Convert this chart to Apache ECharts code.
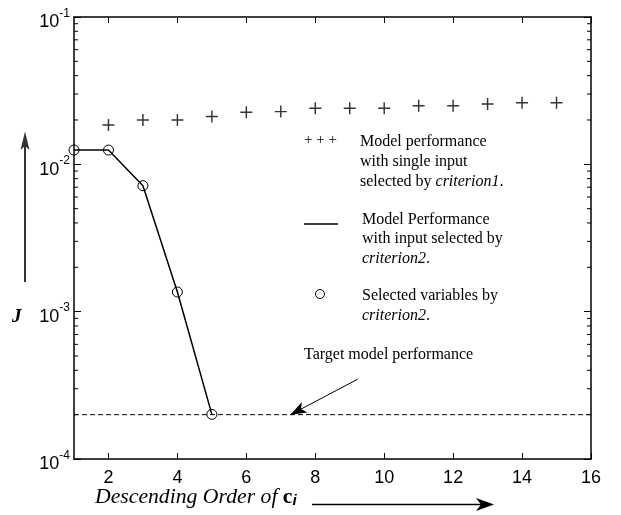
<!DOCTYPE html>
<html>
<head>
<meta charset="utf-8">
<script src="https://cdn.jsdelivr.net/npm/echarts@6/dist/echarts.min.js"></script>
<style>html,body{margin:0;padding:0;background:#fff}#c{width:621px;height:515px}</style>
</head>
<body>
<div id="c"></div>
<script>
// ---- data ----
var xTickValues = [2, 4, 6, 8, 10, 12, 14, 16];
var yTickValues = [0.0001, 0.001, 0.01, 0.1];
var crit1X = [2, 3, 4, 5, 6, 7, 8, 9, 10, 11, 12, 13, 14, 15];
var crit1J = [0.0185, 0.0200, 0.0200, 0.0211, 0.0226, 0.0228, 0.0240, 0.0240, 0.0240, 0.0250, 0.0250, 0.0257, 0.0262, 0.0262];
var crit2X = [1, 2, 3, 4, 5];
var crit2J = [0.0125, 0.0125, 0.00716, 0.00136, 0.000201];
var targetJ = 0.0002;
var arrowFrom = [9.23, 0.000348];
var arrowTo = [7.28, 0.0002];
var minorMantissas = [2, 3, 4, 5, 6, 7, 8, 9];
var minorDecades = [0.0001, 0.001, 0.01];

var minorTickValues = [];
minorDecades.forEach(function (d) { minorMantissas.forEach(function (m) { minorTickValues.push(m * d); }); });

var chart = echarts.init(document.getElementById('c'), null, { renderer: 'canvas' });
var serif = '"Liberation Serif", "Times New Roman", serif';
var sans = '"Liberation Sans", Arial, sans-serif';

var axisLine = { show: true, onZero: false, lineStyle: { color: '#000', width: 1.5 } };
var italicRich = { i: { fontStyle: 'italic', fontSize: 16, fontFamily: serif, fill: '#000' } };

var option = {
  backgroundColor: '#fff',
  animation: false,
  grid: { left: 74, right: 30, top: 17, bottom: 56, containLabel: false },
  xAxis: [{
    type: 'value', min: 1, max: 16, position: 'bottom',
    axisLine: axisLine,
    axisTick: { show: true, inside: true, length: 6, customValues: xTickValues, lineStyle: { color: '#000', width: 1 } },
    axisLabel: { show: true, customValues: xTickValues, margin: 10, color: '#000', fontSize: 18, fontFamily: sans },
    splitLine: { show: false }
  }, {
    type: 'value', min: 1, max: 16, position: 'top',
    axisLine: axisLine,
    axisTick: { show: true, inside: true, length: 6, customValues: xTickValues, lineStyle: { color: '#000', width: 1 } },
    axisLabel: { show: false },
    splitLine: { show: false }
  }],
  yAxis: [{
    type: 'log', logBase: 10, min: 0.0001, max: 0.1, position: 'left',
    axisLine: axisLine,
    axisTick: { show: true, inside: true, length: 7, lineStyle: { color: '#000', width: 1 } },
    axisLabel: {
      show: true, margin: 4, color: '#000', padding: [5, 0, 0, 0],
      formatter: function (v) {
        var e = Math.round(Math.log10(v));
        return '{b|10}{s|' + e + '}';
      },
      rich: {
        b: { fontSize: 18, fontFamily: sans, color: '#000', lineHeight: 24, verticalAlign: 'bottom' },
        s: { fontSize: 12, fontFamily: sans, color: '#000', lineHeight: 16, verticalAlign: 'top' }
      }
    },
    splitLine: { show: false }
  }, {
    type: 'log', logBase: 10, min: 0.0001, max: 0.1, position: 'right',
    axisLine: axisLine,
    axisTick: { show: true, inside: true, length: 7, lineStyle: { color: '#000', width: 1 } },
    axisLabel: { show: false },
    splitLine: { show: false }
  }],
  series: [{
    name: 'minorTicks',
    type: 'custom',
    silent: true,
    data: minorTickValues.map(function (v) { return [1, v]; }),
    encode: { x: 0, y: 1 },
    renderItem: function (params, api) {
      var v = api.value(1);
      var pl = api.coord([1, v]);
      var pr = api.coord([16, v]);
      return {
        type: 'group',
        children: [
          { type: 'line', shape: { x1: pl[0], y1: pl[1], x2: pl[0] + 4, y2: pl[1] }, style: { stroke: '#000', lineWidth: 1 } },
          { type: 'line', shape: { x1: pr[0], y1: pr[1], x2: pr[0] - 4, y2: pr[1] }, style: { stroke: '#000', lineWidth: 1 } }
        ]
      };
    },
    z: 1
  }, {
    name: 'target',
    type: 'line',
    data: [[1, targetJ], [16, targetJ]],
    symbol: 'none',
    lineStyle: { color: '#000', width: 1, type: [5, 3] },
    markLine: {
      silent: true,
      symbol: ['none', 'arrow'],
      symbolSize: [9, 16],
      label: { show: false },
      lineStyle: { color: '#000', width: 1, type: 'solid' },
      data: [[{ coord: arrowFrom }, { coord: arrowTo }]]
    },
    z: 2
  }, {
    name: 'criterion1',
    type: 'scatter',
    data: crit1X.map(function (x, i) { return [x, crit1J[i]]; }),
    symbol: 'path://M0,44H100V56H0Z M44,0H56V100H44Z',
    symbolSize: 12,
    itemStyle: { color: '#000' },
    z: 3
  }, {
    name: 'criterion2',
    type: 'line',
    data: crit2X.map(function (x, i) { return [x, crit2J[i]]; }),
    symbol: 'circle',
    symbolSize: 10,
    showAllSymbol: true,
    lineStyle: { color: '#000', width: 1.5 },
    itemStyle: { color: 'rgba(0,0,0,0)', borderColor: '#000', borderWidth: 1 },
    z: 4
  }],
  graphic: [
    // legend block 1
    { type: 'text', left: 304, top: 133, style: { text: '+ + +', font: '15px ' + serif, fill: '#000' } },
    { type: 'text', left: 360, top: 132, style: {
      text: 'Model performance\nwith single input\nselected by {i|criterion1}.',
      font: '16px ' + serif, fill: '#000', lineHeight: 20, rich: italicRich } },
    // legend block 2
    { type: 'line', shape: { x1: 304, y1: 224, x2: 338, y2: 224 }, style: { stroke: '#000', lineWidth: 1.5 } },
    { type: 'text', left: 362, top: 210, style: {
      text: 'Model Performance\nwith input selected by\n{i|criterion2}.',
      font: '16px ' + serif, fill: '#000', lineHeight: 19.5, rich: italicRich } },
    // legend block 3
    { type: 'circle', shape: { cx: 320, cy: 294, r: 4.5 }, style: { fill: 'none', stroke: '#000', lineWidth: 1 } },
    { type: 'text', left: 362, top: 286, style: {
      text: 'Selected variables by\n{i|criterion2}.',
      font: '16px ' + serif, fill: '#000', lineHeight: 20, rich: italicRich } },
    // target label
    { type: 'text', left: 304, top: 347, style: { text: 'Target model performance', font: '16px ' + serif, fill: '#000' } },
    // y axis label J with arrow
    { type: 'text', left: 12, top: 308, style: { text: 'J', font: 'italic bold 19px ' + serif, fill: '#000' } },
    { type: 'line', shape: { x1: 25, y1: 282, x2: 25, y2: 145 }, style: { stroke: '#333', lineWidth: 2 } },
    { type: 'polygon', shape: { points: [[25, 131.5], [29.5, 150], [25, 146], [20.5, 150]] }, style: { fill: '#333' } },
    // x axis title with arrow
    { type: 'text', x: 95, y: 488, scaleX: 1.085, style: {
      text: 'Descending Order of {c|c}{s|i}',
      font: 'italic 20px ' + serif, fill: '#000',
      rich: {
        c: { fontWeight: 'bold', fontStyle: 'normal', fontSize: 20, fontFamily: serif, fill: '#000', verticalAlign: 'middle' },
        s: { fontWeight: 'bold', fontStyle: 'italic', fontSize: 14, fontFamily: sans, fill: '#000', verticalAlign: 'bottom', padding: [6, 0, 0, 0] }
      } } },
    { type: 'line', shape: { x1: 312, y1: 504.5, x2: 482, y2: 504.5 }, style: { stroke: '#000', lineWidth: 1.5 } },
    { type: 'polygon', shape: { points: [[494, 504.5], [476, 498], [481, 504.5], [476, 511]] }, style: { fill: '#000' } }
  ]
};
chart.setOption(option);
</script>
</body>
</html>
